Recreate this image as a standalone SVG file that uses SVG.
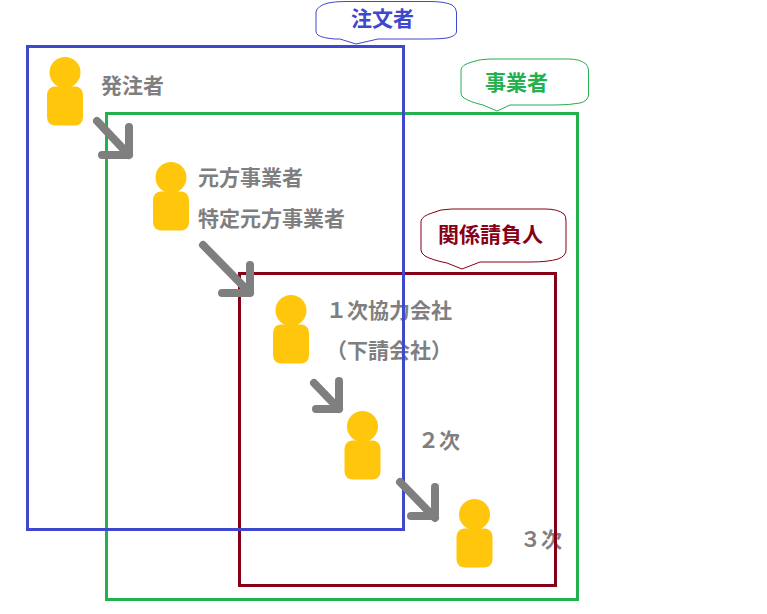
<svg xmlns="http://www.w3.org/2000/svg" width="767" height="614" viewBox="0 0 767 614">
<defs>
<g id="person"><circle cx="0" cy="0" r="15.5" fill="#ffc60b"/><rect x="-18" y="14" width="36" height="39" rx="8" fill="#ffc60b"/></g>
</defs>
<style>
text{font-family:"Noto Sans CJK JP","Liberation Sans",sans-serif;font-weight:700;font-size:21px}
.l{fill:#7f7f7f}
.f{fill:none;stroke-width:3}
.c{fill:#fff;stroke-width:1}
.a{fill:none;stroke:#7f7f7f;stroke-width:8;stroke-linecap:round;stroke-linejoin:round}
</style>
<rect width="767" height="614" fill="#fff"/>
<g id="node-hatchu"><use href="#person" x="65" y="72.500"/><text class="l" x="101" y="93">発注者</text></g>
<g id="node-motokata"><use href="#person" x="171" y="177.500"/><text class="l" x="198" y="185">元方事業者</text><text class="l" x="198" y="226">特定元方事業者</text></g>
<g id="node-ichiji"><use href="#person" x="291" y="310.500"/><text class="l" x="326" y="318">１次協力会社</text><text class="l" x="326" y="358">（下請会社）</text></g>
<g id="node-niji"><use href="#person" x="362.500" y="426.500"/><text class="l" x="418" y="448">２次</text></g>
<g id="node-sanji"><use href="#person" x="474.500" y="514.500"/><text class="l" x="520" y="547">３次</text></g>
<g id="frame-jigyosha"><rect class="f" x="106.500" y="113.500" width="471" height="486" stroke="#22b14c"/></g>
<g id="frame-kankei"><rect class="f" x="239.500" y="273.500" width="316" height="312" stroke="#880015"/></g>
<g id="frame-chumon"><rect class="f" x="27.500" y="46.500" width="376" height="483" stroke="#3f48cc"/></g>
<g id="callout-chumon"><path class="c" stroke="#3f48cc" d="M328 3Q335 1.500 345 1.500H430Q445 1.500 452 5Q456 7 456.500 12V32Q456 36 447 38Q440 39 425 39H378L356 44L340 39H335Q322 38 318 35Q316 34 316 31V12Q317 6 328 3Z"/><text x="351" y="26" fill="#3f48cc">注文者</text></g>
<g id="callout-jigyosha"><path class="c" stroke="#22b14c" d="M472 62Q480 59 490 59H568Q580 59 586 64Q588 66 588.500 70V95Q588 101 580 103Q570 105 555 105H510L497 111L483 105Q470 102 464 98Q461 96 461 93V70Q461 65 472 62Z"/><text x="485" y="90" fill="#22b14c">事業者</text></g>
<g id="callout-kankei"><path class="c" stroke="#880015" d="M432 213Q440 209 452 209H545Q558 209 564 214Q566 216 566 221V250Q566 256 558 259Q548 262 530 262H480L462 269L447 263Q432 260 425 256Q421 253 421 250V221Q422 216 432 213Z"/><text x="438" y="242" fill="#880015">関係請負人</text></g>
<g id="connectors">
<path class="a" d="M97 121L129 155M129 127V155H102"/>
<path class="a" d="M203 245L250 293M250 265V293H222"/>
<path class="a" d="M314 383L339 409M339 381V409H316"/>
<path class="a" d="M400 482L435 518M435 487V516H411"/>
</g>
</svg>
